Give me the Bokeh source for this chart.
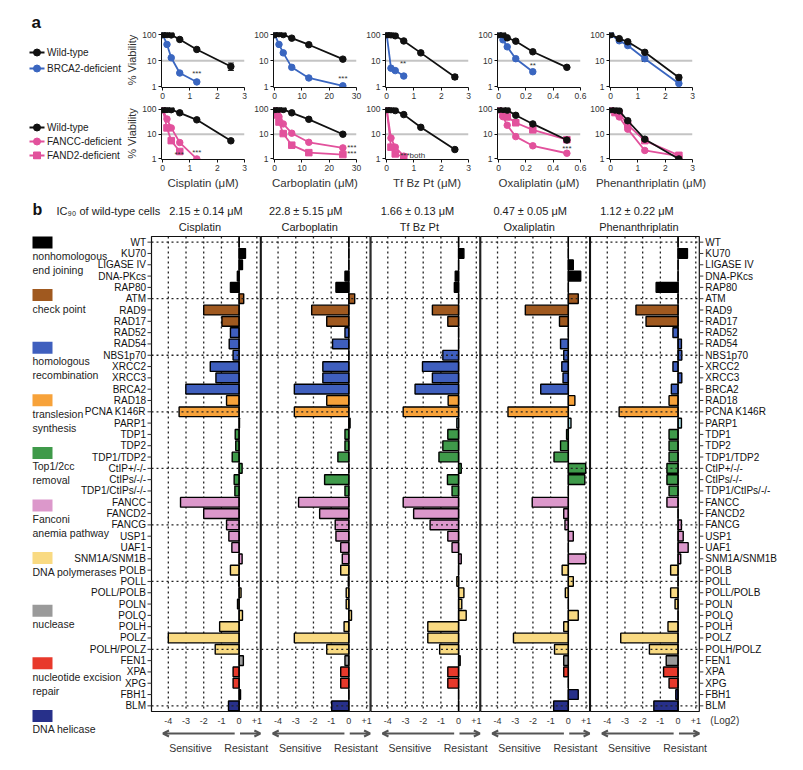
from bokeh.plotting import figure
from bokeh.layouts import row, column
from bokeh.models import (Range1d, FixedTicker, Span, Arrow, OpenHead, Title, ColumnDataSource,
                          Whisker, TeeHead)
from bokeh.embed import file_html
from bokeh.resources import INLINE
from bokeh.core.properties import value

FONT = "Liberation Sans"

# ============================ panel a data ============================
drugs = ["Cisplatin", "Carboplatin", "Tf Bz Pt", "Oxaliplatin", "Phenanthriplatin"]
axis_max = [3, 30, 3, 0.6, 3]
axis_ticks = [[0, 1, 2, 3], [0, 10, 20, 30], [0, 1, 2, 3], [0, 0.2, 0.4, 0.6], [0, 1, 2, 3]]

cis_conc = [0, 0.078, 0.156, 0.3125, 0.625, 1.25, 2.5]
cis_wt_top = [100, 102, 100, 97, 65, 27, 6.0]
cis_brca2_conc = [0, 0.156, 0.3125, 0.625, 1.25]
cis_brca2 = [100, 42, 13, 3.4, 1.55]
cis_wt_bot = [100, 100, 100, 98, 73, 38, 5.4]
cis_fancc_conc = [0, 0.156, 0.3125, 0.625, 1.25]
cis_fancc = [100, 41, 18, 4.6, 1.0]
cis_fancd2_conc = [0, 0.156, 0.3125, 0.625]
cis_fancd2 = [100, 18, 5.5, 2.0]

cb_conc = [0, 0.78, 1.56, 3.125, 6.25, 12.5, 25]
cb_wt_top = [100, 110, 108, 100, 73, 41, 11.5]
cb_brca2_conc = [0, 1.56, 3.125, 6.25, 12.5, 25]
cb_brca2 = [100, 42, 20, 5.6, 2.2, 1.1]
cb_wt_bot = [100, 105, 103, 100, 73, 40, 10]
cb_fancc = [100, 75, 51, 26, 11, 4.7, 2.8]
cb_fancd2 = [100, 60, 31, 10.6, 3.6, 1.8, 1.5]

tf_conc = [0, 0.078, 0.156, 0.3125, 0.625, 1.25, 2.5]
tf_wt_top = [100, 100, 98, 90, 57, 20, 2.4]
tf_brca2_conc = [0, 0.156, 0.3125, 0.625]
tf_brca2 = [100, 5.2, 4.2, 2.6]
tf_wt_bot = [100, 100, 98, 90, 62, 19, 2.4]
tf_fanc_conc = [0, 0.156, 0.3125, 0.625]
tf_fancc = [100, 7.0, 3.0, 1.3]
tf_fancd2 = [100, 3.0, 1.6, 1.2]

ox_conc = [0, 0.03125, 0.0625, 0.125, 0.25, 0.5]
ox_wt_top = [100, 100, 75, 56, 22, 5.6]
ox_brca2_conc = [0, 0.03125, 0.0625, 0.125, 0.25]
ox_brca2 = [100, 63, 34, 12, 3.8]
ox_wt_bot = [100, 100, 94, 58, 26, 5.8]
ox_fancc = [100, 51, 23, 8.0, 3.4, 1.7]
ox_fancd2 = [100, 62, 50, 29, 15, 6.0]

ph_conc = [0, 0.3125, 0.625, 1.25, 2.5]
ph_wt_top = [100, 70, 53, 21, 2.3]
ph_brca2 = [100, 58, 38, 12, 1.35]
ph_conc_bot = [0, 0.156, 0.3125, 0.625, 1.25, 2.5]
ph_wt_bot = [100, 95, 88, 35, 6.3, 1.0]
ph_fancc = [100, 80, 50, 16, 2.2, 1.3]
ph_fancd2 = [100, 75, 68, 24, 5.5, 1.4]

# error bars (x, lower, upper) on the top row
err_top = [[(2.5, 4.3, 8.2)], [], [(2.5, 2.0, 2.9)], [], [(2.5, 1.7, 2.8), (1.25, 9.5, 15)]]

stars_top = [[(1.25, 3.2, "***")], [(25, 2.1, "***")], [(0.6, 8.0, "**")], [(0.25, 6.3, "**")], []]
stars_bot = [[(0.6, 1.45, "***"), (1.25, 1.9, "***")], [(28.3, 2.9, "***"), (28.3, 1.6, "***")],
             [(0.95, 1.35, "***both")], [(0.5, 2.7, "***")], []]

WT_C, BLUE_C, PINK_C = "#111111", "#3a66c0", "#e2519c"

top_series = [
    [(cis_brca2_conc, cis_brca2, BLUE_C, "circle"), (cis_conc, cis_wt_top, WT_C, "circle")],
    [(cb_brca2_conc, cb_brca2, BLUE_C, "circle"), (cb_conc, cb_wt_top, WT_C, "circle")],
    [(tf_brca2_conc, tf_brca2, BLUE_C, "circle"), (tf_conc, tf_wt_top, WT_C, "circle")],
    [(ox_brca2_conc, ox_brca2, BLUE_C, "circle"), (ox_conc, ox_wt_top, WT_C, "circle")],
    [(ph_conc, ph_brca2, BLUE_C, "circle"), (ph_conc, ph_wt_top, WT_C, "circle")],
]
bot_series = [
    [(cis_fancc_conc, cis_fancc, PINK_C, "circle"), (cis_fancd2_conc, cis_fancd2, PINK_C, "square"),
     (cis_conc, cis_wt_bot, WT_C, "circle")],
    [(cb_conc, cb_fancc, PINK_C, "circle"), (cb_conc, cb_fancd2, PINK_C, "square"),
     (cb_conc, cb_wt_bot, WT_C, "circle")],
    [(tf_fanc_conc, tf_fancc, PINK_C, "circle"), (tf_fanc_conc, tf_fancd2, PINK_C, "square"),
     (tf_conc, tf_wt_bot, WT_C, "circle")],
    [(ox_conc, ox_fancc, PINK_C, "circle"), (ox_conc, ox_fancd2, PINK_C, "square"),
     (ox_conc, ox_wt_bot, WT_C, "circle")],
    [(ph_conc_bot, ph_fancc, PINK_C, "circle"), (ph_conc_bot, ph_fancd2, PINK_C, "square"),
     (ph_conc_bot, ph_wt_bot, WT_C, "circle")],
]
legend_top = [("Wild-type", WT_C, "circle"), ("BRCA2-deficient", BLUE_C, "circle")]
legend_bot = [("Wild-type", WT_C, "circle"), ("FANCC-deficient", PINK_C, "circle"),
              ("FAND2-deficient", PINK_C, "square")]

# ============================ panel b data ============================
genes = ["WT", "KU70", "LIGASE IV", "DNA-PKcs", "RAP80", "ATM", "RAD9", "RAD17", "RAD52", "RAD54",
         "NBS1p70", "XRCC2", "XRCC3", "BRCA2", "RAD18", "PCNA K146R", "PARP1", "TDP1", "TDP2",
         "TDP1/TDP2", "CtIP+/-/-", "CtIPs/-/-", "TDP1/CtIPs/-/-", "FANCC", "FANCD2", "FANCG", "USP1",
         "UAF1", "SNM1A/SNM1B", "POLB", "POLL", "POLL/POLB", "POLN", "POLQ", "POLH", "POLZ",
         "POLH/POLZ", "FEN1", "XPA", "XPG", "FBH1", "BLM"]
gene_group = ["nhej"] * 5 + ["check"] * 3 + ["hr"] * 6 + ["tls"] * 2 + ["parp"] + ["top"] * 6 + \
             ["fa"] * 6 + ["pol"] * 8 + ["nuc"] + ["ner"] * 2 + ["hel"] * 2

cisplatin_log2 = [0, 0.36, 0.19, -0.10, -0.49, 0.26, -2.0, -0.97, -0.49, -0.56, -0.34, -1.63, -1.31,
                  -3.01, -0.71, -3.39, 0.02, -0.22, -0.19, -0.39, 0.17, -0.28, -0.24, -3.31, -2.0,
                  -0.71, -0.58, -0.41, 0.17, -0.49, -0.02, 0.11, -0.09, 0.19, -1.1, -4.0, -1.35,
                  0.24, -0.34, -0.34, 0.08, -0.6]
carboplatin_log2 = [0, 0, 0, -0.22, -0.73, 0.33, -2.1, -1.25, -0.22, -0.92, 0, -1.47, -1.47, -3.08,
                    -1.25, -3.08, 0.07, -0.22, -0.22, -0.62, 0, -1.37, -0.22, -2.84, -1.65, -0.77,
                    -0.73, -0.46, -0.37, -0.46, -0.03, -0.15, -0.15, 0.15, -0.27, -3.08, -1.25,
                    -0.22, -0.46, -0.46, 0, -0.97]
tfbzpt_log2 = [0, 0.3, 0, -0.19, -0.24, 0, -1.48, -0.61, 0, 0, -0.89, -2.04, -1.48, -2.46, -0.59,
               -3.13, -0.1, -0.61, -0.89, -1.11, 0.15, -0.63, -0.37, -3.13, -2.54, -1.61, -0.61,
               -0.37, 0.15, 0, -0.1, 0.3, 0.18, 0.43, -1.74, -1.74, -1.07, 0.09, -0.61, -0.61, 0, 0]
oxaliplatin_log2 = [0, 0, 0.28, 0.7, 0, 0.56, -2.43, -0.5, 0, -0.44, -0.26, -0.37, -0.3, -1.56, 0.37,
                    -3.41, 0.15, -0.1, -0.44, -0.81, 0.98, 0.93, 0, -2.04, -0.26, -0.19, 0.28, 0,
                    0.98, -0.35, 0.28, -0.17, 0, 0.56, -0.26, -3.1, -0.78, -0.26, -0.26, 0, 0.56,
                    -0.83]
phenanthriplatin_log2 = [0, 0.53, 0, 0, -1.24, 0, -2.38, -1.81, -0.29, 0.19, 0.21, -0.29, 0.21, -0.38,
                         -0.51, -3.33, 0.19, -0.51, -0.51, -0.51, -0.63, -0.63, -0.51, -0.63, 0, 0.19,
                         0.29, 0.57, 0.15, -0.42, 0, -0.42, -0.17, 0, -0.57, -3.24, -1.62, -0.67,
                         -0.82, -0.51, -0.13, -1.37]
ic90_text = ["2.15 ± 0.14 μM", "22.8 ± 5.15 μM", "1.66 ± 0.13 μM", "0.47 ± 0.05 μM", "1.12 ± 0.22 μM"]
log2_ticks = [-4, -3, -2, -1, 0, 1]
log2_labels = ["-4", "-3", "-2", "-1", "0", "+1"]
grid_ticks = [-4, -3, -2, -1, 1]
hline_rows = [0, 5, 10, 15, 20, 25, 30, 36, 41]

groups = ["nhej", "check", "hr", "tls", "top", "fa", "pol", "nuc", "ner", "hel"]
group_labels = ["nonhomologous\nend joining", "check point", "homologous\nrecombination",
                "translesion\nsynthesis", "Top1/2cc\nremoval", "Fanconi\nanemia pathway",
                "DNA polymerases", "nuclease", "nucleotide excision\nrepair", "DNA helicase"]
group_color = {"nhej": "#000000", "check": "#a0591f", "hr": "#3f5fbe", "tls": "#f7a23a",
               "parp": "#a8e0ea", "top": "#3f9a4a", "fa": "#dc98cb", "pol": "#f9da82",
               "nuc": "#9a9a9a", "ner": "#e8392b", "hel": "#27308a"}

all_log2 = [cisplatin_log2, carboplatin_log2, tfbzpt_log2, oxaliplatin_log2, phenanthriplatin_log2]


def base_fig(**kw):
    kw.setdefault("output_backend", "svg")
    kw.setdefault("toolbar_location", None)
    kw.setdefault("title", None)
    p = figure(**kw)
    p.background_fill_color = "white"
    p.border_fill_color = "white"
    return p


def style_axis(ax, size="8.5px"):
    ax.major_label_text_font = FONT
    ax.major_label_text_font_size = size
    ax.major_label_text_color = "#333333"
    ax.axis_label_text_font = FONT
    ax.axis_label_text_font_style = "normal"
    ax.axis_label_text_color = "#333333"
    ax.minor_tick_line_color = None


# ============================ panel a figures ============================
A_TOP = dict(top=32, fh=55, bottom=17)
A_BOT = dict(top=3, fh=52, bottom=36)
LEG_W = 122


def mini(d, top):
    xmax = axis_max[d]
    first, last = d == 0, d == 4
    g = A_TOP if top else A_BOT
    p = base_fig(frame_width=83, frame_height=g["fh"],
                 x_range=Range1d(-0.015 * xmax, xmax), y_range=Range1d(0.95, 120),
                 y_axis_type="log",
                 min_border_left=(161 - LEG_W) if first else 22, min_border_right=30 if last else 7,
                 min_border_top=g["top"], min_border_bottom=g["bottom"])
    p.outline_line_color = None
    p.grid.visible = False
    p.xaxis.ticker = FixedTicker(ticks=axis_ticks[d])
    p.yaxis.ticker = FixedTicker(ticks=[1, 10, 100])
    p.yaxis.major_label_overrides = {1: "1", 10: "10", 100: "100"}
    for ax in p.axis:
        style_axis(ax)
        ax.major_tick_out = 3
        ax.major_tick_in = 0
        ax.major_label_standoff = 2
        ax.axis_line_color = "#111111"
        ax.major_tick_line_color = "#111111"
    if first:
        p.yaxis.axis_label = "% Viability"
        p.yaxis.axis_label_text_font_size = "11px"
        p.yaxis.axis_label_standoff = 1
    if not top:
        p.xaxis.axis_label = drugs[d] + " (μM)"
        p.xaxis.axis_label_text_font_size = "11.5px"
        p.xaxis.axis_label_standoff = 3
    p.add_layout(Span(location=10, dimension="width", line_color="#c4c4c4", line_width=2,
                      level="underlay"))
    if top and err_top[d]:
        e = err_top[d]
        esrc = ColumnDataSource(dict(x=[v[0] for v in e], lo=[v[1] for v in e],
                                     hi=[v[2] for v in e]))
        p.add_layout(Whisker(source=esrc, base="x", lower="lo", upper="hi", dimension="height",
                             line_color="#222222", line_width=1.2,
                             upper_head=TeeHead(size=6, line_color="#222222", line_width=1.2),
                             lower_head=TeeHead(size=6, line_color="#222222", line_width=1.2)))
    for xs, ys, col, mk in (top_series[d] if top else bot_series[d]):
        src = ColumnDataSource(dict(x=xs, y=ys))
        p.line("x", "y", source=src, line_color=col, line_width=1.8)
        p.scatter("x", "y", source=src, marker=mk, size=6.5, fill_color=col, line_color=col)
    st = stars_top[d] if top else stars_bot[d]
    if st:
        src = ColumnDataSource(dict(x=[s[0] for s in st], y=[s[1] for s in st],
                                    t=[s[2] for s in st]))
        p.text("x", "y", text="t", source=src, text_font=value(FONT), text_font_size="8px",
               text_color="#333333", text_align="center", text_baseline="middle")
    return p


def legend_fig(g, page_top, entries, first_y, pitch, letter=None):
    # y range in page pixels of this row so legend rows line up with the small plots
    y0 = page_top + g["top"]
    f = base_fig(frame_width=LEG_W, frame_height=g["fh"], x_range=Range1d(0, LEG_W),
                 y_range=Range1d(y0 + g["fh"], y0), min_border_left=0, min_border_right=0,
                 min_border_top=g["top"], min_border_bottom=g["bottom"],
                 x_axis_location=None, y_axis_location=None)
    f.outline_line_color = None
    f.grid.visible = False
    ys = [first_y + i * pitch for i in range(len(entries))]
    cols = [e[1] for e in entries]
    f.segment(x0=[29] * len(ys), y0=ys, x1=[44] * len(ys), y1=ys, line_color=cols, line_width=1.8)
    for (lab, col, mk), yy in zip(entries, ys):
        f.scatter(x=[36.5], y=[yy], marker=mk, size=7, fill_color=col, line_color=col)
    f.text(x=[46.5] * len(ys), y=ys, text=[e[0] for e in entries], text_font=value(FONT),
           text_font_size="10px", text_baseline="middle", text_color="#222222")
    if letter:
        f.add_layout(Title(text=letter, align="left", offset=31, standoff=1, text_font=FONT,
                           text_font_size="17px", text_font_style="bold", text_color="#111111"),
                     "above")
    return f


la1 = legend_fig(A_TOP, 0, legend_top, 52, 16, "a")
la2 = legend_fig(A_BOT, 104, legend_bot, 127, 14)
row_a1 = row(la1, *[mini(d, True) for d in range(5)])
row_a2 = row(la2, *[mini(d, False) for d in range(5)])

# ============================ panel b (one figure) ============================
PX = 17.7                      # pixels per log2 unit
RH = 475 / len(genes)          # pixels per gene row
LEFT_U, RIGHT_U, PANEL_U = -4.95, 1.2, 6.2
ZERO0 = 151 - LEFT_U * PX      # page x of the cisplatin zero line
ROW0 = 236 + RH / 2            # page y of the first row
PB_TOP, PB_BOT = 195, 770
IC_SHIFT = [0, -10, -8, -5, -8]   # header value shifts, px


def px2x(px):
    return (px - ZERO0) / PX


def py2r(py):
    return (py - ROW0) / RH


n = len(genes)
rows_idx = list(range(n))
offsets = [k * PANEL_U for k in range(5)]
colors = [group_color[g] for g in gene_group]

pb = base_fig(frame_width=803, frame_height=PB_BOT - PB_TOP,
              x_range=Range1d(px2x(0), px2x(803)), y_range=Range1d(py2r(PB_BOT), py2r(PB_TOP)),
              min_border=0, x_axis_location=None, y_axis_location=None)
pb.outline_line_color = None
pb.grid.visible = False

DOT = dict(line_color="#222222", line_dash="2 3", line_width=1.3)
gx = [o + t for o in offsets for t in grid_ticks]
pb.segment(x0=gx, y0=[-0.5] * len(gx), x1=gx, y1=[n - 0.5] * len(gx), **DOT)

for k, o in enumerate(offsets):
    vals = all_log2[k]
    src = ColumnDataSource(dict(y=rows_idx, left=[o] * n, right=[o + v for v in vals], c=colors))
    pb.hbar(y="y", left="left", right="right", height=0.86, fill_color="c",
            line_color="#000000", line_width=1.4, source=src)

pb.segment(x0=offsets, y0=[-0.5] * 5, x1=offsets, y1=[n - 0.5] * 5, line_color="#000000",
           line_width=1.4)
hx0 = [o + LEFT_U for o in offsets for r in hline_rows]
hx1 = [o + RIGHT_U for o in offsets for r in hline_rows]
hy = [r for o in offsets for r in hline_rows]
pb.segment(x0=hx0, y0=hy, x1=hx1, y1=hy, **DOT)
pb.quad(left=[o + LEFT_U for o in offsets], right=[o + RIGHT_U for o in offsets],
        top=[-0.5] * 5, bottom=[n - 0.5] * 5, fill_color=None, line_color="#111111", line_width=1.2)

# category ticks and labels on both sides
lt0, lt1 = offsets[0] + LEFT_U - 4 / PX, offsets[0] + LEFT_U
rt0, rt1 = offsets[4] + RIGHT_U, offsets[4] + RIGHT_U + 4 / PX
pb.segment(x0=[lt0] * n, y0=rows_idx, x1=[lt1] * n, y1=rows_idx, line_color="#333333", line_width=1)
pb.segment(x0=[rt0] * n, y0=rows_idx, x1=[rt1] * n, y1=rows_idx, line_color="#333333", line_width=1)
pb.text(x=[lt0 - 1.5 / PX] * n, y=rows_idx, text=genes, text_align="right", text_baseline="middle",
        text_font=value(FONT), text_font_size="10px", text_color="#111111")
pb.text(x=[rt1 + 2 / PX] * n, y=rows_idx, text=genes, text_align="left", text_baseline="middle",
        text_font=value(FONT), text_font_size="10px", text_color="#111111")

# log2 tick labels
tx = [o + t for o in offsets for t in log2_ticks]
tl = [lab for o in offsets for lab in log2_labels]
pb.text(x=tx, y=[n - 0.5 + 9 / RH] * len(tx), text=tl, text_align="center", text_baseline="middle",
        text_font=value(FONT), text_font_size="9px", text_color="#333333")
pb.text(x=[offsets[4] + RIGHT_U + 11 / PX], y=[n - 0.5 + 9 / RH], text=["(Log2)"],
        text_baseline="middle", text_font=value(FONT), text_font_size="10px", text_color="#333333")

# headers
mid = (LEFT_U + RIGHT_U) / 2
pb.text(x=[o + mid - 6 / PX for o in offsets], y=[-0.5 - 10 / RH] * 5, text=drugs,
        text_align="center", text_baseline="middle",
        text_font=value(FONT), text_font_size="11px", text_color="#222222")
pb.text(x=[o + mid + s / PX for o, s in zip(offsets, IC_SHIFT)], y=[py2r(210)] * 5, text=ic90_text,
        text_align="center", text_baseline="middle",
        text_font=value(FONT), text_font_size="11px", text_color="#222222")
pb.text(x=[px2x(32)], y=[py2r(209)], text=["b"], text_baseline="middle", text_font=value(FONT),
        text_font_size="16px", text_font_style="bold", text_color="#111111")
pb.text(x=[px2x(56)], y=[py2r(210)], text=["IC₉₀ of wild-type cells"], text_baseline="middle",
        text_font=value(FONT), text_font_size="11px", text_color="#222222")

# group legend
leg_py = [242 + 52.6 * i for i in range(len(groups))]
pb.rect(x=[px2x(42)] * len(groups), y=[py2r(v) for v in leg_py], width=20 / PX, height=12 / RH,
        fill_color=[group_color[g] for g in groups], line_color=None)
pb.text(x=[px2x(32)] * len(groups), y=[py2r(v + 7.5) for v in leg_py], text=group_labels,
        text_align="left", text_baseline="top", text_font=value(FONT), text_font_size="10.5px",
        text_color="#222222", text_line_height=1.15)

# sensitive / resistant arrows
ay = py2r(733)
for o in offsets:
    pb.add_layout(Arrow(x_start=o - 0.25, y_start=ay, x_end=o - 4.3, y_end=ay, start=None,
                        end=OpenHead(size=6, line_width=2, line_color="#555555"),
                        line_color="#555555", line_width=2.2))
    pb.add_layout(Arrow(x_start=o + 0.05, y_start=ay, x_end=o + 1.2, y_end=ay, start=None,
                        end=OpenHead(size=6, line_width=2, line_color="#555555"),
                        line_color="#555555", line_width=2.2))
pb.text(x=[o - 2.75 for o in offsets], y=[py2r(747)] * 5, text=["Sensitive"] * 5,
        text_font=value(FONT), text_font_size="10.5px", text_align="center",
        text_baseline="middle", text_color="#333333")
pb.text(x=[o + 0.4 for o in offsets], y=[py2r(747)] * 5, text=["Resistant"] * 5,
        text_font=value(FONT), text_font_size="10.5px", text_align="center",
        text_baseline="middle", text_color="#333333")

layout = column(row_a1, row_a2, pb)
open("out.html", "w").write(file_html(layout, INLINE))
